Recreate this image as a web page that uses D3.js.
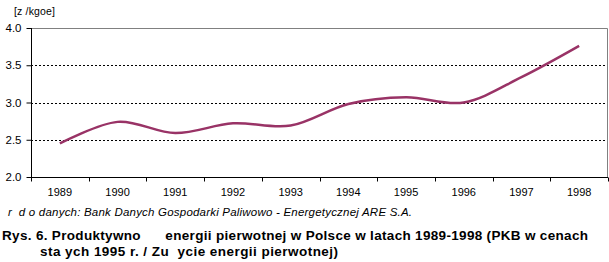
<!DOCTYPE html>
<html>
<head>
<meta charset="utf-8">
<script src="https://cdn.jsdelivr.net/npm/d3@7"></script>
<style>
  body { margin: 0; background: #fff; }
  text { font-family: "Liberation Sans", Arial, sans-serif; }
</style>
</head>
<body>
<div id="chart"></div>
<script>
let width = 609
let height = 262
let margin = { left: 31, right: 1, top: 28, bottom: 85 }

// data
let years = ["1989", "1990", "1991", "1992", "1993", "1994", "1995", "1996", "1997", "1998"]
let values = [2.45, 2.74, 2.59, 2.72, 2.69, 2.98, 3.07, 3.0, 3.34, 3.76]
let yTicks = [2.0, 2.5, 3.0, 3.5, 4.0]
let unitLabel = "[z /kgoe]"
let sourceText = "r  d o danych: Bank Danych Gospodarki Paliwowo - Energetycznej ARE S.A."
let titleLines = [
  "Rys. 6. Produktywno      energii pierwotnej w Polsce w latach 1989-1998 (PKB w cenach",
  "sta ych 1995 r. / Zu  ycie energii pierwotnej)"
]

let svg = d3.select("#chart").append("svg")
  .attr("width", width)
  .attr("height", height)

let x0 = margin.left, x1 = width - margin.right
let y0 = height - margin.bottom, y1 = margin.top

let xScale = d3.scaleBand(years, [x0, x1])
let yScale = d3.scaleLinear([2, 4], [y0, y1])

// dotted gridlines
svg.selectAll(".grid")
  .data(yTicks.filter(t => t > 2 && t < 4))
  .enter()
  .append("line")
  .attr("x1", x0).attr("x2", x1)
  .attr("y1", d => Math.round(yScale(d)) + 0.5)
  .attr("y2", d => Math.round(yScale(d)) + 0.5)
  .attr("stroke", "#000")
  .attr("stroke-dasharray", "2,2")

// gray frame top and right
svg.append("path")
  .attr("d", `M${x0},${y1 + 0.5}H${x1 - 0.5}V${y0}`)
  .attr("fill", "none")
  .attr("stroke", "#808080")

// y axis
let yAxis = d3.axisLeft(yScale)
  .tickValues(yTicks)
  .tickFormat(d3.format(".1f"))
  .tickSize(5)
  .tickPadding(5)
svg.append("g")
  .attr("transform", `translate(${x0 + 0.5},0)`)
  .call(yAxis)
  .call(g => g.select(".domain").attr("d", `M0,${y1}V${y0}`))
  .selectAll("text")
  .attr("font-size", 11.5)
  .attr("fill", "#000")

// x axis: ticks on category boundaries
let xAxis = d3.axisBottom(xScale).tickSize(0).tickPadding(11)
let xg = svg.append("g")
  .attr("transform", `translate(0,${y0 + 0.5})`)
  .call(xAxis)
xg.select(".domain").attr("d", `M${x0},0H${x1}`)
xg.selectAll("text").attr("font-size", 11).attr("fill", "#000")
xg.selectAll(".bound")
  .data(years.concat(["end"]))
  .enter()
  .append("line")
  .attr("x1", (d, i) => Math.round(x0 + i * xScale.step()) + 0.5)
  .attr("x2", (d, i) => Math.round(x0 + i * xScale.step()) + 0.5)
  .attr("y1", 0).attr("y2", 4)
  .attr("stroke", "#000")

// the line
let line = d3.line()
  .x((d, i) => xScale(years[i]) + xScale.bandwidth() / 2)
  .y(d => yScale(d))
  .curve(d3.curveCatmullRom.alpha(0))

svg.append("path")
  .datum(values)
  .attr("d", line)
  .attr("fill", "none")
  .attr("stroke", "#993366")
  .attr("stroke-width", 2.5)

// unit label
svg.append("text")
  .attr("x", 14).attr("y", 15)
  .attr("font-size", 10.5)
  .attr("textLength", 41)
  .attr("lengthAdjust", "spacing")
  .text(unitLabel)

// source
svg.append("text")
  .attr("x", 8).attr("y", 216)
  .attr("font-size", 11.5)
  .attr("font-style", "italic")
  .attr("textLength", 404)
  .attr("lengthAdjust", "spacing")
  .style("white-space", "pre")
  .text(sourceText)

// caption
svg.selectAll(".title")
  .data(titleLines)
  .enter()
  .append("text")
  .attr("x", (d, i) => i === 0 ? 2 : 40)
  .attr("y", (d, i) => 240 + i * 16)
  .attr("font-size", 13.5)
  .attr("font-weight", "bold")
  .attr("textLength", (d, i) => i === 0 ? 586 : 298)
  .attr("lengthAdjust", "spacing")
  .style("white-space", "pre")
  .text(d => d)
</script>
</body>
</html>
